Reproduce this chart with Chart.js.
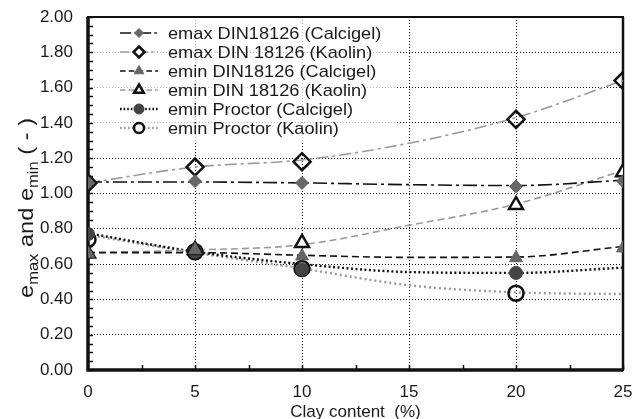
<!DOCTYPE html>
<html>
<head>
<meta charset="utf-8">
<script src="https://cdn.jsdelivr.net/npm/chart.js@4.4.1/dist/chart.umd.min.js"></script>
<style>
    html, body { margin: 0; padding: 0; background: #fff; }
    #voidChart { display: block; }
</style>
</head>
<body>
<canvas id="voidChart" width="644" height="419"></canvas>
<script>
// clay content (%) on the x axis
const clayContent = [0, 5, 10, 15, 20, 25];
const yTicks = [0, 0.2, 0.4, 0.6, 0.8, 1.0, 1.2, 1.4, 1.6, 1.8, 2.0];

const seriesNames = [
    "emax DIN18126 (Calcigel)",
    "emax DIN 18126 (Kaolin)",
    "emin DIN18126 (Calcigel)",
    "emin DIN 18126 (Kaolin)",
    "emin Proctor (Calcigel)",
    "emin Proctor (Kaolin)"
];

// measured points (null = not measured)
const emaxCalcigel = [1.06, 1.07, 1.06, null, 1.04, 1.07];
const emaxKaolin = [1.06, 1.15, 1.18, null, 1.42, 1.64];
const eminCalcigel = [0.66, 0.68, 0.645, null, 0.635, 0.69];
const eminKaolin = [0.66, 0.68, 0.72, null, 0.935, 1.12];
const proctorCalcigel = [0.77, 0.67, 0.57, null, 0.55, null];
const proctorKaolin = [0.74, 0.67, 0.575, null, 0.435, null];

// trend lines
const emaxCalcigelFit = [1.065, 1.065, 1.06, 1.05, 1.045, 1.075];
const emaxKaolinFit = [1.06, 1.15, 1.19, 1.285, 1.43, 1.64];
const eminCalcigelFit = [0.665, 0.665, 0.65, 0.638, 0.64, 0.70];
const eminKaolinFit = [0.665, 0.68, 0.71, 0.82, 0.94, 1.13];
const proctorCalcigelFit = [0.775, 0.67, 0.60, 0.555, 0.55, 0.58];
const proctorKaolinFit = [0.765, 0.665, 0.575, 0.48, 0.44, 0.43];

const pointValues = [emaxCalcigel, emaxKaolin, eminCalcigel, eminKaolin, proctorCalcigel, proctorKaolin];
const fitValues = [emaxCalcigelFit, emaxKaolinFit, eminCalcigelFit, eminKaolinFit, proctorCalcigelFit, proctorKaolinFit];

const looks = [
    { line: "#111", dash: [14, 4, 3, 4], lw: 1.6, shape: "rectRot", r: 6.5, fill: "#666", edge: "#666", bw: 1, lr: 4.5 },
    { line: "#9a9a9a", dash: [12, 4, 3, 4], lw: 1.6, shape: "rectRot", r: 8.5, fill: "rgba(0,0,0,0)", edge: "#111", bw: 2.5, lr: 5.5 },
    { line: "#111", dash: [7, 4], lw: 1.6, shape: "triangle", r: 7.5, fill: "#666", edge: "#666", bw: 1, lr: 5.5 },
    { line: "#9a9a9a", dash: [7, 4], lw: 1.6, shape: "triangle", r: 8, fill: "#fff", edge: "#111", bw: 2.5, lr: 5.5 },
    { line: "#111", dash: [2, 2.5], lw: 2.4, shape: "circle", r: 6.5, fill: "#444", edge: "#444", bw: 1, lr: 5 },
    { line: "#9a9a9a", dash: [2, 3], lw: 2.4, shape: "circle", r: 7.5, fill: "rgba(0,0,0,0)", edge: "#111", bw: 2.5, lr: 5 }
];

function toXY(values) {
    let out = [];
    for (let i = 0; i < clayContent.length; i++) {
        if (values[i] !== null) out.push({ x: clayContent[i], y: values[i] });
    }
    return out;
}

let datasets = [];
for (let i = 0; i < seriesNames.length; i++) {
    let lk = looks[i];
    datasets.push({
        label: seriesNames[i] + " fit",
        data: toXY(fitValues[i]),
        showLine: true,
        borderColor: lk.line,
        borderWidth: lk.lw,
        borderDash: lk.dash,
        pointRadius: 0,
        cubicInterpolationMode: "monotone",
        fill: false,
        order: 2
    });
    datasets.push({
        label: seriesNames[i],
        data: toXY(pointValues[i]),
        showLine: false,
        pointStyle: lk.shape,
        pointRadius: lk.r,
        pointBackgroundColor: lk.fill,
        pointBorderColor: lk.edge,
        pointBorderWidth: lk.bw,
        order: 1
    });
}

const FONT = "'Liberation Sans', Arial, sans-serif";

function drawShape(ctx, shape, r, x, y) {
    if (shape === "circle") {
        ctx.arc(x, y, r, 0, Math.PI * 2);
    } else if (shape === "rectRot") {
        ctx.moveTo(x, y - r); ctx.lineTo(x + r, y); ctx.lineTo(x, y + r); ctx.lineTo(x - r, y); ctx.closePath();
    } else {
        ctx.moveTo(x, y - r); ctx.lineTo(x + r * 0.87, y + r * 0.5); ctx.lineTo(x - r * 0.87, y + r * 0.5); ctx.closePath();
    }
}

const decorPlugin = {
    id: "decor",
    beforeDatasetsDraw(chart) {
        const ctx = chart.ctx;
        const a = chart.chartArea;
        const xs = chart.scales.x, ys = chart.scales.y;
        ctx.save();
        ctx.setLineDash([]);
        // legend backdrop
        ctx.fillStyle = "rgba(255,255,255,0.7)";
        ctx.fillRect(a.left + 2, a.top + 3, 305, 122);
        // minor ticks
        ctx.strokeStyle = "#111";
        ctx.lineWidth = 1.5;
        ctx.beginPath();
        for (let v = 0; v <= 2.0001; v += 0.05) {
            let py = Math.round(ys.getPixelForValue(v)) + 0.5;
            ctx.moveTo(a.left, py);
            ctx.lineTo(a.left + 5, py);
        }
        for (let v = 0; v <= 25; v += 2.5) {
            let px = Math.round(xs.getPixelForValue(v)) + 0.5;
            ctx.moveTo(px, a.bottom);
            ctx.lineTo(px, a.bottom - 5);
        }
        ctx.stroke();
        // frame
        ctx.lineWidth = 2;
        ctx.strokeRect(a.left, a.top, a.right - a.left, a.bottom - a.top);
        ctx.lineWidth = 3.5;
        ctx.beginPath();
        ctx.moveTo(a.left, a.top);
        ctx.lineTo(a.left, a.bottom);
        ctx.lineTo(a.right, a.bottom);
        ctx.stroke();
        ctx.lineWidth = 2.5;
        ctx.beginPath();
        ctx.moveTo(a.right, a.top);
        ctx.lineTo(a.right, a.bottom);
        ctx.stroke();
        ctx.restore();
    },
    afterDraw(chart) {
        const ctx = chart.ctx;
        const a = chart.chartArea;
        ctx.save();
        // legend
        for (let i = 0; i < seriesNames.length; i++) {
            let lk = looks[i];
            let cy = 33 + i * 19;
            ctx.strokeStyle = lk.line;
            ctx.lineWidth = lk.lw;
            ctx.setLineDash(lk.dash.map(d => d * 0.8));
            ctx.beginPath();
            ctx.moveTo(120, cy);
            ctx.lineTo(158, cy);
            ctx.stroke();
            ctx.setLineDash([]);
            ctx.fillStyle = lk.fill === "rgba(0,0,0,0)" ? "#fff" : lk.fill;
            ctx.strokeStyle = lk.edge;
            ctx.lineWidth = lk.bw;
            ctx.beginPath();
            drawShape(ctx, lk.shape, lk.lr, 139, cy);
            ctx.fill();
            ctx.stroke();
            ctx.save();
            ctx.fillStyle = "#1a1a1a";
            ctx.font = "17px " + FONT;
            ctx.textBaseline = "middle";
            ctx.textAlign = "left";
            ctx.translate(168, cy + 1);
            ctx.scale(1.07, 1);
            ctx.fillText(seriesNames[i], 0, 0);
            ctx.restore();
        }
        // x title
        ctx.fillStyle = "#1a1a1a";
        ctx.font = "17px " + FONT;
        ctx.textAlign = "center";
        ctx.textBaseline = "alphabetic";
        ctx.fillText("Clay content  (%)", (a.left + a.right) / 2, 417);
        // y title with subscripts
        const parts = [["e", 20, 0], ["max", 14, 5], [" and e", 20, 0], ["min", 14, 5], [" ( - )", 20, 0]];
        let total = 0;
        for (const p of parts) { ctx.font = p[1] + "px " + FONT; total += ctx.measureText(p[0]).width; }
        let stretch = 180 / total;
        ctx.translate(33, 208);
        ctx.rotate(-Math.PI / 2);
        ctx.scale(stretch, 1);
        ctx.textAlign = "left";
        let u = -total / 2;
        for (const p of parts) {
            ctx.font = p[1] + "px " + FONT;
            ctx.fillText(p[0], u, p[2]);
            u += ctx.measureText(p[0]).width;
        }
        ctx.restore();
    }
};

new Chart("voidChart", {
    type: "scatter",
    data: { datasets: datasets },
    plugins: [decorPlugin],
    options: {
        responsive: false,
        animation: false,
        devicePixelRatio: 1,
        layout: { padding: { top: 17, right: 21, left: 0, bottom: 0 } },
        plugins: {
            legend: { display: false },
            tooltip: { enabled: false }
        },
        scales: {
            x: {
                type: "linear",
                min: 0,
                max: 25,
                afterBuildTicks: s => { s.ticks = clayContent.map(v => ({ value: v })); },
                afterFit: s => { s.height = 49; s.paddingLeft = 0; s.paddingRight = 0; },
                grid: { color: "#111", lineWidth: 1, drawTicks: false },
                border: { display: false, dash: [1, 2] },
                ticks: { font: { family: FONT, size: 17 }, color: "#1a1a1a", padding: 12 }
            },
            y: {
                min: 0,
                max: 2,
                afterBuildTicks: s => { s.ticks = yTicks.map(v => ({ value: v })); },
                afterFit: s => { s.width = 88; s.paddingTop = 0; s.paddingBottom = 0; },
                grid: { color: "#111", lineWidth: 1, drawTicks: false },
                border: { display: false, dash: [1, 2] },
                ticks: {
                    font: { family: FONT, size: 17 },
                    color: "#1a1a1a",
                    padding: 15,
                    callback: v => Number(v).toFixed(2)
                }
            }
        }
    }
});
</script>
</body>
</html>
